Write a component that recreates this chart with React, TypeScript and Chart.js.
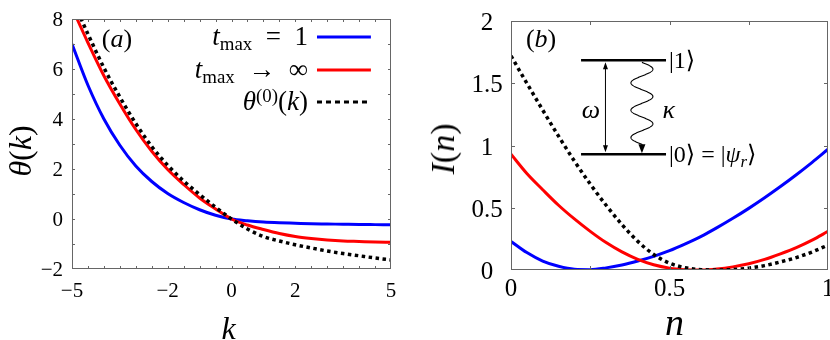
import React, { useEffect, useRef, useState } from 'react';
import { Chart, registerables } from 'chart.js';
Chart.register(...registerables);

const SERIF = "'Liberation Serif', 'DejaVu Serif', serif";
const BLUE = '#0000ff';
const RED = '#ff0000';
const BLACK = '#000000';

// ---------- Panel (a): theta(k) ----------
const kValues = [-5, -4.5, -4, -3.5, -3, -2.5, -2, -1.5, -1, -0.5, 0, 0.5, 1, 1.5, 2, 2.5, 3, 3.5, 4, 4.5, 5];
const thetaTmax1 = [7.0, 5.35, 4.0, 2.95, 2.12, 1.5, 1.02, 0.66, 0.37, 0.15, 0, -0.07, -0.12, -0.15, -0.17, -0.19, -0.2, -0.21, -0.22, -0.225, -0.23];
const thetaTmaxInf = [8.45, 7.05, 5.73, 4.6, 3.58, 2.71, 1.98, 1.38, 0.84, 0.4, 0, -0.24, -0.42, -0.58, -0.7, -0.78, -0.84, -0.88, -0.9, -0.92, -0.93];
const theta0 = [8.8, 7.4, 6.05, 4.88, 3.82, 2.9, 2.15, 1.52, 0.98, 0.47, 0, -0.4, -0.7, -0.88, -1.03, -1.16, -1.28, -1.38, -1.47, -1.56, -1.64];
const kTickLabels = [-5, -2, 0, 2, 5];
const thetaTickLabels = [-2, 0, 2, 4, 6, 8];

// ---------- Panel (b): I(n) ----------
const nValues = [0, 0.05, 0.1, 0.15, 0.2, 0.25, 0.3, 0.35, 0.4, 0.45, 0.5, 0.55, 0.6, 0.65, 0.7, 0.75, 0.8, 0.85, 0.9, 0.95, 1];
const intensityTmax1 = [0.23, 0.14, 0.072, 0.03, 0.006, 0.003, 0.017, 0.04, 0.072, 0.11, 0.155, 0.21, 0.27, 0.34, 0.415, 0.495, 0.58, 0.67, 0.765, 0.865, 0.97];
const intensityTmaxInf = [0.93, 0.775, 0.645, 0.52, 0.41, 0.31, 0.22, 0.145, 0.085, 0.042, 0.015, 0.003, 0.0, 0.008, 0.025, 0.05, 0.085, 0.13, 0.18, 0.24, 0.31];
const intensity0 = [1.72, 1.5, 1.285, 1.075, 0.875, 0.69, 0.52, 0.365, 0.23, 0.125, 0.055, 0.018, 0.003, 0.0, 0.004, 0.015, 0.035, 0.065, 0.1, 0.145, 0.2];
const nTickLabels = [0, 0.5, 1];
const intensityTickLabels = [0, 0.5, 1, 1.5, 2];

// annotation anchors (data coordinates)
const legendRowsTheta = [7.28, 5.96, 4.68];
const legendTextK = 2.4;
const legendLineK = [2.68, 4.37];
const panelALabelAt = { x: -3.59, y: 7.2 };
const panelBLabelAt = { x: 0.095, y: 1.855 };
const insetLevelN = [0.221, 0.489];
const insetUpperI = 1.684;
const insetLowerI = 0.929;
const insetArrowN = 0.298;
const insetWaveN = 0.413;
const insetOmegaAt = { x: 0.252, y: 1.285 };
const insetKappaN = 0.478;

const fmt = (v: number) => (v < 0 ? '\u2212' + Math.abs(v) : String(v));
const pts = (xs: number[], ys: number[]) => xs.map((x, i) => ({ x, y: ys[i] }));

// ---------- text helpers (DOM text placed with the chart's scales) ----------
const It = ({ children }: { children: React.ReactNode }) => <span style={{ fontStyle: 'italic' }}>{children}</span>;
const Sub = ({ children }: { children: React.ReactNode }) => (
  <span style={{ fontSize: '0.7em', position: 'relative', top: '0.28em' }}>{children}</span>
);
const Sup = ({ children }: { children: React.ReactNode }) => (
  <span style={{ fontSize: '0.7em', position: 'relative', top: '-0.42em' }}>{children}</span>
);

type Item = { x: number; y: number; anchor: 'left' | 'right' | 'center'; size: number; rotate?: boolean; content: React.ReactNode };

function frameTicks(xMarks: number[], yMarks: number[], len: number) {
  return {
    id: 'frameTicks',
    afterDraw(chart: any) {
      const { ctx, chartArea: a, scales } = chart;
      ctx.save();
      ctx.strokeStyle = '#666';
      ctx.lineWidth = 1;
      ctx.strokeRect(a.left + 0.5, a.top + 0.5, a.right - a.left - 1, a.bottom - a.top - 1);
      ctx.beginPath();
      xMarks.forEach((v) => {
        const px = Math.round(scales.x.getPixelForValue(v)) + 0.5;
        ctx.moveTo(px, a.top);
        ctx.lineTo(px, a.top + len);
        ctx.moveTo(px, a.bottom);
        ctx.lineTo(px, a.bottom - len);
      });
      yMarks.forEach((v) => {
        const py = Math.round(scales.y.getPixelForValue(v)) + 0.5;
        ctx.moveTo(a.left, py);
        ctx.lineTo(a.left + len, py);
        ctx.moveTo(a.right, py);
        ctx.lineTo(a.right - len, py);
      });
      ctx.stroke();
      ctx.restore();
    },
  };
}

const kMarks: number[] = [];
for (let v = -4.5; v < 5; v += 0.5) kMarks.push(v);
const thetaMarks = [-1, 0, 1, 2, 3, 4, 5, 6, 7];
const nMarks = [0.25, 0.5, 0.75];
const iMarks = [0.5, 1, 1.5];

const legendLines = [
  { color: BLUE, dash: [] as number[] },
  { color: RED, dash: [] as number[] },
  { color: BLACK, dash: [5, 4] },
];

const legendLinePlugin = {
  id: 'legendLinesA',
  afterDraw(chart: any) {
    const { ctx, scales } = chart;
    const l0 = scales.x.getPixelForValue(legendLineK[0]);
    const l1 = scales.x.getPixelForValue(legendLineK[1]);
    ctx.save();
    legendLines.forEach((r, i) => {
      const y = scales.y.getPixelForValue(legendRowsTheta[i]);
      ctx.beginPath();
      ctx.strokeStyle = r.color;
      ctx.lineWidth = 3;
      ctx.setLineDash(r.dash);
      ctx.moveTo(l0, y);
      ctx.lineTo(l1, y);
      ctx.stroke();
    });
    ctx.restore();
  },
};

const insetPlugin = {
  id: 'insetB',
  afterDraw(chart: any) {
    const { ctx, scales } = chart;
    const xs = scales.x, ys = scales.y;
    const x0 = xs.getPixelForValue(insetLevelN[0]);
    const x1 = xs.getPixelForValue(insetLevelN[1]);
    const yTop = ys.getPixelForValue(insetUpperI);
    const yBot = ys.getPixelForValue(insetLowerI);
    ctx.save();
    ctx.strokeStyle = BLACK;
    ctx.fillStyle = BLACK;
    ctx.lineWidth = 2.5;
    ctx.beginPath();
    ctx.moveTo(x0, yTop); ctx.lineTo(x1, yTop);
    ctx.moveTo(x0, yBot); ctx.lineTo(x1, yBot);
    ctx.stroke();
    const ax = xs.getPixelForValue(insetArrowN);
    ctx.lineWidth = 1;
    ctx.beginPath();
    ctx.moveTo(ax, yTop + 4); ctx.lineTo(ax, yBot - 4);
    ctx.stroke();
    ctx.beginPath();
    ctx.moveTo(ax, yTop + 2); ctx.lineTo(ax - 2.5, yTop + 9); ctx.lineTo(ax + 2.5, yTop + 9); ctx.closePath();
    ctx.moveTo(ax, yBot - 2); ctx.lineTo(ax - 2.5, yBot - 9); ctx.lineTo(ax + 2.5, yBot - 9); ctx.closePath();
    ctx.fill();
    const wx = xs.getPixelForValue(insetWaveN);
    const ws = yTop + 2;
    const we = yBot - 10;
    ctx.lineWidth = 1.1;
    ctx.beginPath();
    for (let i = 0; i <= 300; i++) {
      const t = i / 300;
      const px = wx + 11 * Math.sin(2 * Math.PI * 3 * t);
      const py = ws + (we - ws) * t;
      if (i === 0) ctx.moveTo(px, py); else ctx.lineTo(px, py);
    }
    ctx.lineTo(wx, yBot - 6);
    ctx.stroke();
    ctx.beginPath();
    ctx.moveTo(wx, yBot - 1); ctx.lineTo(wx - 3.5, yBot - 10); ctx.lineTo(wx + 3.5, yBot - 10); ctx.closePath();
    ctx.fill();
    ctx.restore();
  },
};

const lineDs = (label: string, data: any[], color: string, dashed: boolean) => ({
  label,
  data,
  borderColor: color,
  backgroundColor: color,
  borderWidth: dashed ? 3.5 : 3,
  borderDash: dashed ? [3.5, 3.5] : [],
  pointRadius: 0,
  fill: false,
  cubicInterpolationMode: 'monotone' as const,
});

const hiddenAxis = (min: number, max: number, size: { width?: number; height?: number }) => ({
  type: 'linear',
  min,
  max,
  grid: { display: false, drawTicks: false },
  border: { display: false },
  ticks: { display: false },
  title: { display: false },
  afterFit: (s: any) => {
    if (size.width !== undefined) s.width = size.width;
    if (size.height !== undefined) s.height = size.height;
    s.paddingLeft = 0; s.paddingRight = 0; s.paddingTop = 0; s.paddingBottom = 0;
  },
});

function configA(): any {
  return {
    type: 'line',
    data: {
      datasets: [
        lineDs('theta0', pts(kValues, theta0), BLACK, true),
        lineDs('tmax inf', pts(kValues, thetaTmaxInf), RED, false),
        lineDs('tmax 1', pts(kValues, thetaTmax1), BLUE, false),
      ],
    },
    options: {
      animation: false,
      responsive: false,
      events: [],
      layout: { padding: { top: 19, right: 24, bottom: 0, left: 0 } },
      plugins: { legend: { display: false }, tooltip: { enabled: false } },
      scales: { x: hiddenAxis(-5, 5, { height: 71 }), y: hiddenAxis(-2, 8, { width: 72 }) },
    },
    plugins: [frameTicks(kMarks, thetaMarks, 3), legendLinePlugin],
  };
}

function configB(): any {
  return {
    type: 'line',
    data: {
      datasets: [
        lineDs('I0', pts(nValues, intensity0), BLACK, true),
        lineDs('tmax inf', pts(nValues, intensityTmaxInf), RED, false),
        lineDs('tmax 1', pts(nValues, intensityTmax1), BLUE, false),
      ],
    },
    options: {
      animation: false,
      responsive: false,
      events: [],
      layout: { padding: { top: 21, right: 2, bottom: 0, left: 0 } },
      plugins: { legend: { display: false }, tooltip: { enabled: false } },
      scales: { x: hiddenAxis(0, 1, { height: 70 }), y: hiddenAxis(0, 2, { width: 96 }) },
    },
    plugins: [frameTicks(nMarks, iMarks, 4), insetPlugin],
  };
}

function overlayA(chart: any): Item[] {
  const { chartArea: a, scales } = chart;
  const xs = scales.x, ys = scales.y;
  const items: Item[] = [];
  thetaTickLabels.forEach((v) => items.push({ x: a.left - 9, y: ys.getPixelForValue(v), anchor: 'right', size: 21, content: fmt(v) }));
  kTickLabels.forEach((v) => items.push({ x: xs.getPixelForValue(v), y: a.bottom + 21, anchor: 'center', size: 21, content: fmt(v) }));
  items.push({ x: (a.left + a.right) / 2 - 3, y: a.bottom + 59, anchor: 'center', size: 32, content: <It>k</It> });
  items.push({ x: 20, y: (a.top + a.bottom) / 2 + 7, anchor: 'center', size: 32, rotate: true, content: <><It>θ</It>(<It>k</It>)</> });
  const tx = xs.getPixelForValue(legendTextK);
  const rowContent = [
    <><It>t</It><Sub>max</Sub>{'\u2002=\u20021'}</>,
    <><It>t</It><Sub>max</Sub>{'\u2002\u2192\u2002\u221E'}</>,
    <><It>θ</It><Sup>(0)</Sup>(<It>k</It>)</>,
  ];
  legendRowsTheta.forEach((v, i) => items.push({ x: tx, y: ys.getPixelForValue(v) - 1, anchor: 'right', size: 27, content: rowContent[i] }));
  items.push({ x: xs.getPixelForValue(panelALabelAt.x), y: ys.getPixelForValue(panelALabelAt.y), anchor: 'center', size: 26, content: <>(<It>a</It>)</> });
  return items;
}

function overlayB(chart: any): Item[] {
  const { chartArea: a, scales } = chart;
  const xs = scales.x, ys = scales.y;
  const items: Item[] = [];
  intensityTickLabels.forEach((v) => items.push({ x: a.left - 24, y: ys.getPixelForValue(v), anchor: 'center', size: 25, content: String(v) }));
  nTickLabels.forEach((v) => items.push({ x: xs.getPixelForValue(v), y: a.bottom + 17, anchor: 'center', size: 25, content: String(v) }));
  items.push({ x: (a.left + a.right) / 2 + 5, y: a.bottom + 52, anchor: 'center', size: 38, content: <It>n</It> });
  items.push({ x: 28, y: (a.top + a.bottom) / 2 + 3, anchor: 'center', size: 34, rotate: true, content: <><It>I</It>(<It>n</It>)</> });
  const lx = xs.getPixelForValue(insetLevelN[1]) + 3;
  items.push({ x: lx, y: ys.getPixelForValue(insetUpperI), anchor: 'left', size: 24, content: '|1\u27E9' });
  items.push({ x: lx, y: ys.getPixelForValue(insetLowerI), anchor: 'left', size: 24, content: <>{'|0\u27E9 = |'}<It>ψ</It><Sub><It>r</It></Sub>{'\u27E9'}</> });
  items.push({ x: xs.getPixelForValue(insetOmegaAt.x), y: ys.getPixelForValue(insetOmegaAt.y), anchor: 'center', size: 26, content: <It>ω</It> });
  items.push({ x: xs.getPixelForValue(insetKappaN), y: ys.getPixelForValue(insetOmegaAt.y), anchor: 'left', size: 26, content: <It>κ</It> });
  items.push({ x: xs.getPixelForValue(panelBLabelAt.x), y: ys.getPixelForValue(panelBLabelAt.y), anchor: 'center', size: 26, content: <>(<It>b</It>)</> });
  return items;
}

function Panel({ make, overlay, left }: { make: () => any; overlay: (c: any) => Item[]; left: number }) {
  const ref = useRef<HTMLCanvasElement>(null);
  const [items, setItems] = useState<Item[]>([]);
  useEffect(() => {
    const chart = new Chart(ref.current as HTMLCanvasElement, make());
    setItems(overlay(chart));
    return () => chart.destroy();
  }, []);
  return (
    <div style={{ position: 'absolute', left, top: 0, width: 415, height: 340 }}>
      <canvas ref={ref} width={415} height={340} style={{ position: 'absolute', left: 0, top: 0, width: 415, height: 340 }} />
      {items.map((it, i) => {
        const tx = it.anchor === 'center' ? '-50%' : it.anchor === 'right' ? '-100%' : '0';
        return (
          <div
            key={i}
            style={{
              position: 'absolute',
              left: it.x,
              top: it.y,
              transform: `translate(${tx}, -50%)${it.rotate ? ' rotate(-90deg)' : ''}`,
              fontFamily: SERIF,
              fontSize: it.size,
              lineHeight: 1,
              whiteSpace: 'pre',
              color: BLACK,
            }}
          >
            {it.content}
          </div>
        );
      })}
    </div>
  );
}

export default function App() {
  return (
    <div style={{ position: 'fixed', left: 0, top: 0, width: 830, height: 340, background: '#fff', overflow: 'hidden' }}>
      <Panel make={configA} overlay={overlayA} left={0} />
      <Panel make={configB} overlay={overlayB} left={415} />
    </div>
  );
}
